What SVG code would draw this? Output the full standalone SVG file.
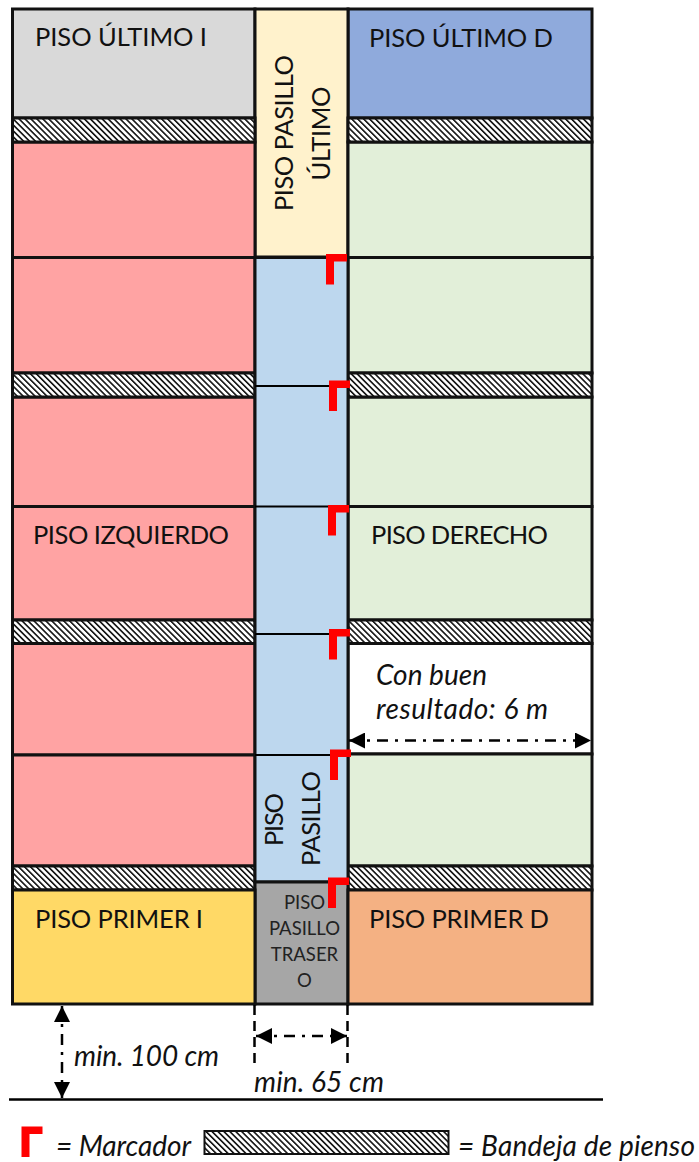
<svg xmlns="http://www.w3.org/2000/svg" width="699" height="1162" viewBox="0 0 699 1162">
<style>
text{font-family:"Lato","Liberation Sans",sans-serif;fill:#111}
.l{font-size:25.500px}
.i{font-style:italic;font-size:28px}
.s{font-size:18.500px;text-anchor:middle;fill:#222}
.b{stroke:#000;stroke-width:2;fill:none}
.e{stroke:#000;stroke-width:2.500;fill:none;stroke-dasharray:10 6}
.t{stroke:#111;stroke-width:3}
.d{stroke:#000;stroke-width:2.500;fill:none;stroke-dasharray:11 7 3 7}
.m{fill:#f00}
</style>
<defs>
<pattern id="h" width="4.200" height="4.200" patternUnits="userSpaceOnUse" patternTransform="rotate(-45)">
<rect width="4.200" height="4.200" fill="#fff"/><rect width="1.600" height="4.200" fill="#111"/>
</pattern>
<path id="mk" class="m" d="M0 0H21V7.500H8V30.500H0Z"/>
<marker id="a" viewBox="0 0 16 16" refX="16" refY="8" markerWidth="16" markerHeight="16" markerUnits="userSpaceOnUse" orient="auto-start-reverse"><path d="M0 0L16 8L0 16Z" fill="#000"/></marker>
</defs>
<rect width="699" height="1162" fill="#fff"/>

<g id="piso-ultimo-i"><rect class="t" x="12.500" y="9" width="242.500" height="109" fill="#d9d9d9"/><text class="l" x="35" y="46" textLength="172">PISO ÚLTIMO I</text></g>
<g id="piso-ultimo-d"><rect class="t" x="348" y="9" width="244" height="109" fill="#8faadc"/><text class="l" x="369" y="47" textLength="184">PISO ÚLTIMO D</text></g>
<g id="piso-pasillo-ultimo"><rect class="t" x="255" y="9" width="93" height="248" fill="#fff2cc"/><text class="l" transform="translate(292.500,211) rotate(-90)" textLength="156">PISO PASILLO</text><text class="l" transform="translate(329.500,180.500) rotate(-90)" textLength="94">ÚLTIMO</text></g>

<g id="izquierda">
<rect class="t" x="12.500" y="142" width="242.500" height="115.500" fill="#ffa3a3"/>
<rect class="t" x="12.500" y="257.500" width="242.500" height="115.500" fill="#ffa3a3"/>
<rect class="t" x="12.500" y="397" width="242.500" height="109.500" fill="#ffa3a3"/>
<rect class="t" x="12.500" y="506.500" width="242.500" height="113.500" fill="#ffa3a3"/>
<rect class="t" x="12.500" y="643.500" width="242.500" height="111.500" fill="#ffa3a3"/>
<rect class="t" x="12.500" y="755" width="242.500" height="111" fill="#ffa3a3"/>
<text class="l" x="33" y="544" textLength="196">PISO IZQUIERDO</text>
</g>
<g id="derecha">
<rect class="t" x="348" y="142" width="244" height="115.500" fill="#e2efd9"/>
<rect class="t" x="348" y="257.500" width="244" height="115.500" fill="#e2efd9"/>
<rect class="t" x="348" y="397" width="244" height="109.500" fill="#e2efd9"/>
<rect class="t" x="348" y="506.500" width="244" height="113.500" fill="#e2efd9"/>
<rect class="t" x="348" y="643.500" width="244" height="110.500" fill="#fff"/>
<rect class="t" x="348" y="754" width="244" height="112" fill="#e2efd9"/>
<text class="l" x="371" y="544" textLength="177">PISO DERECHO</text>
<text class="i" x="376" y="685" textLength="111">Con buen</text>
<text class="i" x="376" y="719" textLength="172">resultado: 6 m</text>
</g>
<g id="bandejas">
<rect class="t" x="12.500" y="118" width="242.500" height="24" fill="url(#h)"/>
<rect class="t" x="348" y="118" width="244" height="24" fill="url(#h)"/>
<rect class="t" x="12.500" y="373" width="242.500" height="24" fill="url(#h)"/>
<rect class="t" x="348" y="373" width="244" height="24" fill="url(#h)"/>
<rect class="t" x="12.500" y="620" width="242.500" height="23.500" fill="url(#h)"/>
<rect class="t" x="348" y="620" width="244" height="23.500" fill="url(#h)"/>
<rect class="t" x="12.500" y="866" width="242.500" height="24" fill="url(#h)"/>
<rect class="t" x="348" y="866" width="244" height="24" fill="url(#h)"/>
</g>
<g id="piso-pasillo">
<rect class="t" x="255" y="257.500" width="93" height="624.500" fill="#bdd7ee"/>
<path class="b" d="M255 386H348M255 506.500H348M255 634H348M255 755H348"/>
<text class="l" transform="translate(283,846) rotate(-90)" textLength="53">PISO</text>
<text class="l" transform="translate(320,866) rotate(-90)" textLength="95">PASILLO</text>
</g>
<g id="piso-pasillo-trasero">
<rect class="t" x="255" y="882" width="93" height="122" fill="#a6a6a6"/>
<text class="s" x="304.500" y="909">PISO</text>
<text class="s" x="304.500" y="935">PASILLO</text>
<text class="s" x="304.500" y="961">TRASER</text>
<text class="s" x="304.500" y="987">O</text>
</g>
<g id="piso-primer-i"><rect class="t" x="12.500" y="890" width="242.500" height="114" fill="#ffd966"/><text class="l" x="35" y="928" textLength="168">PISO PRIMER I</text></g>
<g id="piso-primer-d"><rect class="t" x="348" y="890" width="244" height="114" fill="#f4b183"/><text class="l" x="369" y="928" textLength="180">PISO PRIMER D</text></g>

<g id="marcadores">
<use href="#mk" x="326" y="254"/>
<use href="#mk" x="329" y="380.500"/>
<use href="#mk" x="328" y="505"/>
<use href="#mk" x="329" y="629"/>
<use href="#mk" x="330" y="749.500"/>
<use href="#mk" x="328" y="877.500"/>
</g>
<g id="conectores">
<path class="d" d="M349 740.500H591" marker-start="url(#a)" marker-end="url(#a)"/>
<path class="d" d="M62 1006V1098" marker-start="url(#a)" marker-end="url(#a)"/>
<path class="d" d="M256 1036H347" marker-start="url(#a)" marker-end="url(#a)"/>
<path class="e" d="M254.500 1005V1068M347.500 1005V1068"/>
<path stroke="#000" stroke-width="2.500" d="M9 1099.500H603"/>
</g>
<g id="cotas">
<text class="i" x="74" y="1066" textLength="145">min. 100 cm</text>
<text class="i" x="254" y="1092" textLength="130">min. 65 cm</text>
</g>
<g id="leyenda">
<use href="#mk" x="21.500" y="1126.500"/>
<text class="i" x="56" y="1156" textLength="135">= Marcador</text>
<rect x="204.500" y="1131" width="244" height="23" fill="url(#h)" stroke="#111" stroke-width="2"/>
<text class="i" x="458" y="1156" textLength="237">= Bandeja de pienso</text>
</g>
</svg>
